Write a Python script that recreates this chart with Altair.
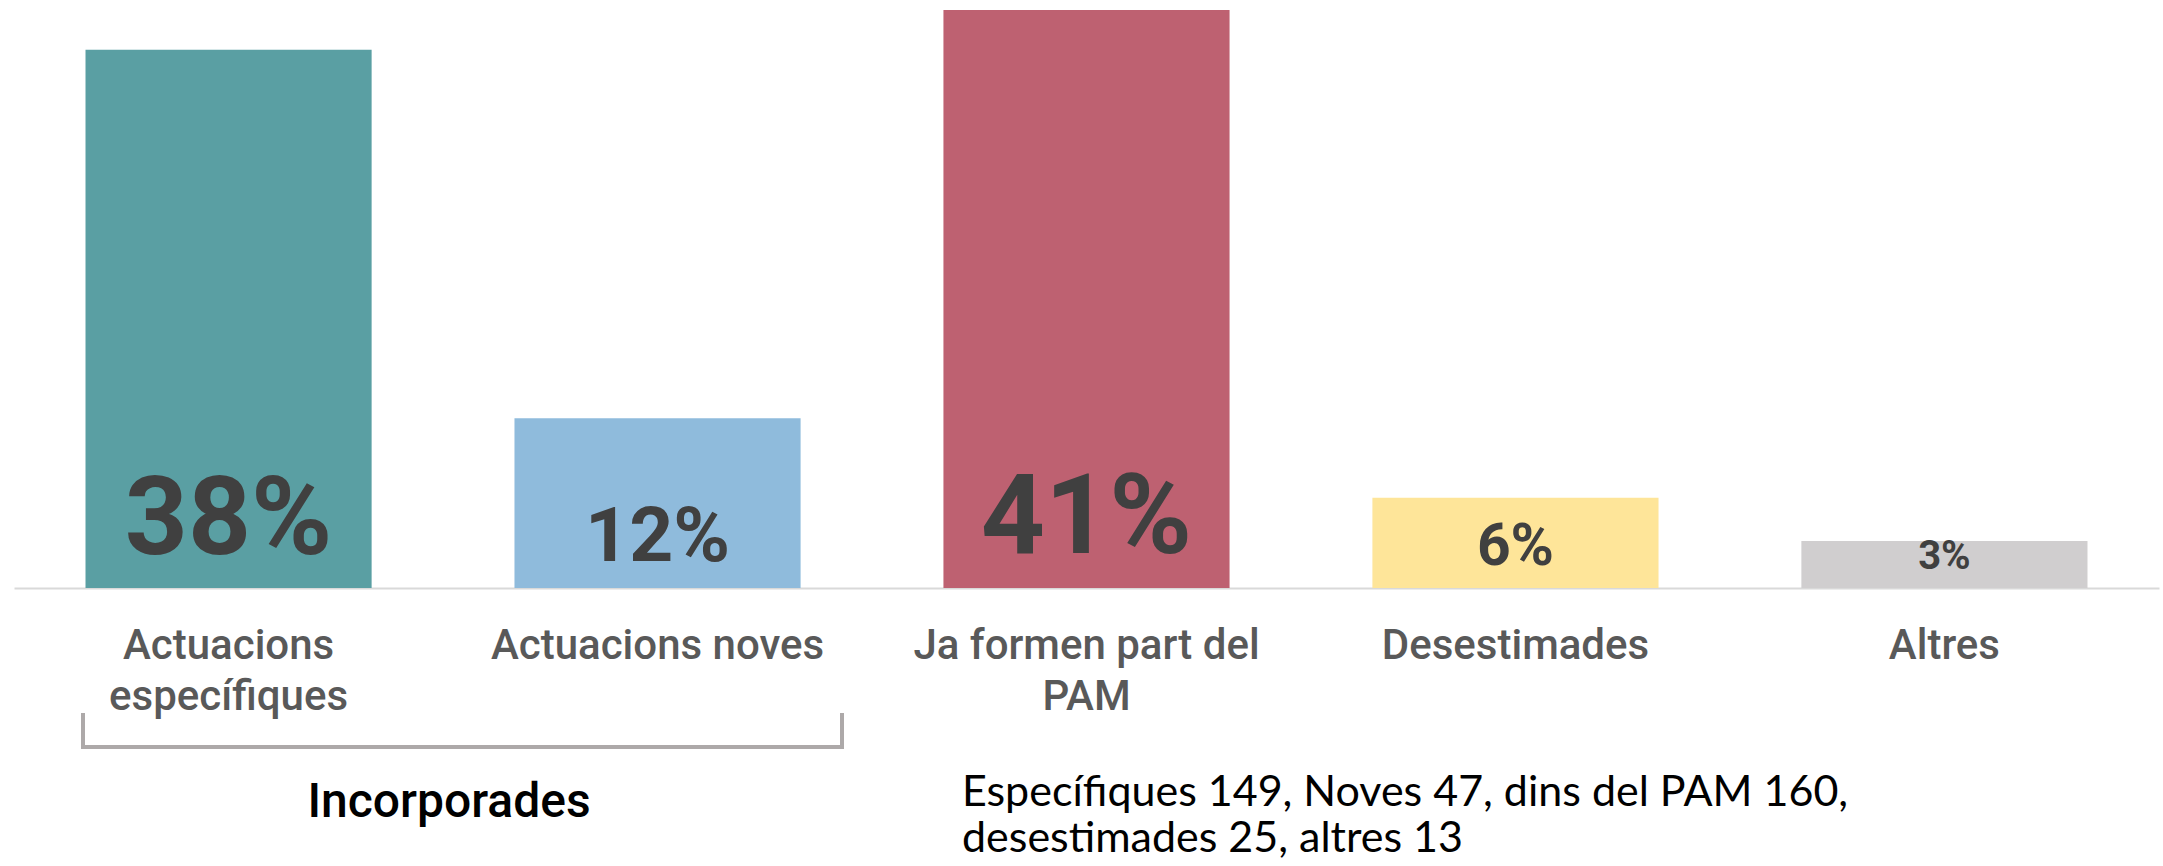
import altair as alt
import pandas as pd

# ---- data ----
categories = ["Actuacions\nespecífiques", "Actuacions noves", "Ja formen part del\nPAM", "Desestimades", "Altres"]
short_names = ["Específiques", "Noves", "dins del PAM", "desestimades", "altres"]
counts = [149, 47, 160, 25, 13]
group_label = "Incorporades"

# ---- styles ----
colors = ["#5A9FA3", "#8FBBDC", "#BE6171", "#FEE599", "#D0CECF"]
LABEL_FONT = "Roboto"
NOTE_FONT = "Lato"

total = sum(counts)
df = pd.DataFrame({"cat": categories, "n": counts})

parts = [f"{s} {c}" for s, c in zip(short_names, counts)]
note_lines = [", ".join(parts[:3]) + ",", ", ".join(parts[3:])]

W, H = 2145, 578

x_enc = alt.X(
    "cat:N",
    sort=None,
    scale=alt.Scale(paddingInner=0.333, paddingOuter=0.1667),
    axis=alt.Axis(
        title=None,
        labelAngle=0,
        ticks=False,
        tickSize=0,
        domainColor="#D9D9D9",
        domainWidth=2,
        labelFont=LABEL_FONT,
        labelFontWeight=500,
        labelFontSize=42,
        labelColor="#595959",
        labelPadding=37,
        labelLineHeight=51,
        labelLimit=0,
        labelExpr="split(datum.label, '\\n')",
    ),
)
y_scale = alt.Scale(domain=[0, max(counts)], nice=False)

base = alt.Chart(df)

bars = base.mark_bar().encode(
    x=x_enc,
    y=alt.Y("n:Q", scale=y_scale, axis=None),
    color=alt.Color("cat:N", sort=None, scale=alt.Scale(domain=categories, range=colors), legend=None),
)

pct = base.transform_calculate(
    pct=f"round(datum.n / {total} * 100) + '%'", zero="0"
).mark_text(
    font=LABEL_FONT, fontWeight="bold", baseline="bottom", dy=-11, color="#404040"
).encode(
    x=alt.X("cat:N", sort=None),
    y=alt.Y("zero:Q", scale=y_scale),
    text="pct:N",
    size=alt.Size(
        "n:Q",
        scale=alt.Scale(type="log", domain=[min(counts), max(counts)], range=[40, 112]),
        legend=None,
    ),
)

bracket_color = "#ADA9A9"
br_left = alt.Chart(pd.DataFrame({"a": [0]})).mark_rule(color=bracket_color, strokeWidth=4).encode(
    x=alt.value(69), y=alt.value(703), y2=alt.value(739)
)
br_right = alt.Chart(pd.DataFrame({"a": [0]})).mark_rule(color=bracket_color, strokeWidth=4).encode(
    x=alt.value(828), y=alt.value(703), y2=alt.value(739)
)
br_bottom = alt.Chart(pd.DataFrame({"a": [0]})).mark_rule(color=bracket_color, strokeWidth=4).encode(
    x=alt.value(67), x2=alt.value(830), y=alt.value(737)
)

group_text = alt.Chart(pd.DataFrame({"t": [group_label]})).mark_text(
    font=LABEL_FONT, fontWeight=500, fontSize=48, color="#000000", align="center", baseline="alphabetic"
).encode(x=alt.value(435), y=alt.value(807), text="t:N")

note_text = alt.Chart(pd.DataFrame({"a": [0]})).mark_text(
    font=NOTE_FONT, fontSize=43, color="#000000", align="left", baseline="alphabetic",
    lineHeight=46, text=note_lines,
).encode(x=alt.value(948), y=alt.value(796))

chart = alt.layer(
    bars, pct, br_left, br_right, br_bottom, group_text, note_text
).properties(
    width=W, height=H,
    autosize=alt.AutoSizeParams(type="none"),
    padding={"left": 14, "top": 10, "right": 4, "bottom": 278},
    background="white",
).configure_view(stroke=None)

chart.save("out.html", embed_options={"renderer": "svg", "actions": False})
